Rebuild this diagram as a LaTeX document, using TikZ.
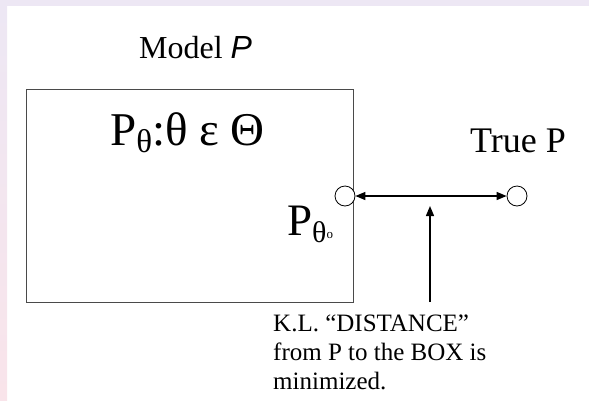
\documentclass[tikz,border=0pt]{standalone}
\usepackage{fontspec}
\setmainfont{Liberation Serif}
\setsansfont{Liberation Sans}
\usepackage{xcolor}
\definecolor{lavender}{HTML}{EDE7F4}
\definecolor{blush}{HTML}{F9E4EA}
\definecolor{edge}{HTML}{4A4A4A}
\usepackage{tikz}
\usetikzlibrary{
  arrows.meta,
  positioning
}

\begin{document}
\begin{tikzpicture}[
  x=1pt, y=-1pt,
  lbl/.style={inner sep=0pt, anchor=base west},
  dot/.style={circle, draw=black, fill=white, thick, minimum size=20pt, inner sep=0pt},
  arr/.style={-{Triangle[length=10pt, width=8pt]}, line width=1.4pt},
  dbl/.style={{Triangle[length=10pt, width=8pt]}-{Triangle[length=10pt, width=8pt]}, line width=1.4pt},
]
\useasboundingbox (0,0) rectangle (589,400);

% Frame strips
\fill[lavender] (0,0) rectangle (589,6);
\shade[top color=lavender, bottom color=blush] (0,6) rectangle (7,400);

% Model box
\node[lbl, font=\fontsize{32}{36}\selectfont] (model) at (139,58) {Model {\sffamily\itshape P}};
\node[draw=edge, line width=1.3pt, anchor=north west, minimum width=327pt, minimum height=213pt, inner sep=0pt] (box) at (26,89) {};
\node[lbl, font=\fontsize{47}{52}\selectfont] (family) at (110,145)
  {P{\fontsize{33}{36}\selectfont\raisebox{-7pt}{θ}}:θ ε Θ};

% Points
\node[dot] (p0) at (345,196) {};
\node[dot] (ptrue) at (517,196) {};
\node[lbl, font=\fontsize{45}{50}\selectfont] (p0lbl) at (287,235)
  {P{\fontsize{30}{32}\selectfont\raisebox{-7pt}{θ}}{\fontsize{13}{14}\selectfont\raisebox{-3pt}{o}}};
\node[lbl, font=\fontsize{36}{40}\selectfont] (truelbl) at (470,152) {True P};

% Distance
\draw[dbl] (p0) -- (ptrue);
\coordinate (klfoot) at (430,302);
\coordinate (kltip) at (430,206);
\draw[arr] (klfoot) -- (kltip);

% Note
\node[inner sep=0pt, anchor=north west, align=left, font=\fontsize{25}{29}\selectfont] (note) at (273,315)
  {K.L. “DISTANCE”\\from P to the BOX is\\minimized.};

\end{tikzpicture}
\end{document}
